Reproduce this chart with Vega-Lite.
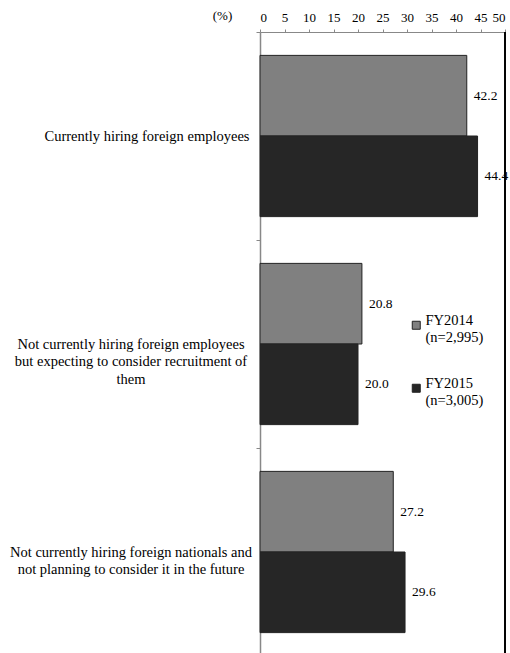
{
  "$schema": "https://vega.github.io/schema/vega-lite/v6.json",
  "width": 245,
  "height": 624,
  "autosize": {"type": "none"},
  "padding": {"left": 260, "top": 32, "right": 5, "bottom": 0},
  "background": "white",
  "config": {"view": {"stroke": null}, "font": "'Liberation Serif', 'Times New Roman', serif"},
  "data": {
    "values": [
      {"category": "Currently hiring foreign employees", "series": "FY2014|(n=2,995)", "value": 42.2},
      {"category": "Currently hiring foreign employees", "series": "FY2015|(n=3,005)", "value": 44.4},
      {"category": "Not currently hiring foreign employees|but expecting to consider recruitment of|them", "series": "FY2014|(n=2,995)", "value": 20.8},
      {"category": "Not currently hiring foreign employees|but expecting to consider recruitment of|them", "series": "FY2015|(n=3,005)", "value": 20.0},
      {"category": "Not currently hiring foreign nationals and|not planning to consider it in the future", "series": "FY2014|(n=2,995)", "value": 27.2},
      {"category": "Not currently hiring foreign nationals and|not planning to consider it in the future", "series": "FY2015|(n=3,005)", "value": 29.6}
    ]
  },
  "encoding": {
    "y": {
      "field": "category", "type": "nominal", "sort": null,
      "scale": {"paddingInner": 0, "paddingOuter": 0},
      "axis": {
        "title": null, "orient": "left",
        "domainColor": "#888", "domainWidth": 1.5,
        "tickColor": "#888", "tickSize": 4, "tickBand": "extent",
        "labelAlign": "center", "labelBaseline": "middle",
        "labelFont": "'Liberation Serif', 'Times New Roman', serif", "labelFontSize": 14.5, "labelLineHeight": 17.5,
        "labelColor": "#000", "labelLimit": 0,
        "labelExpr": "split(datum.label, '|')",
        "labelPadding": {"condition": {"test": "datum.value === 'Currently hiring foreign employees'", "value": 109.5}, "value": 125.5}
      }
    },
    "yOffset": {
      "field": "series", "type": "nominal", "sort": null,
      "scale": {"paddingInner": 0, "paddingOuter": 0.29}
    },
    "x": {
      "field": "value", "type": "quantitative",
      "scale": {"domain": [0, 50], "nice": false},
      "axis": {
        "orient": "top", "grid": false, "values": [0, 5, 10, 15, 20, 25, 30, 35, 40, 45, 50],
        "domainColor": "#888", "tickColor": "#888", "tickSize": 3,
        "labelFont": "'Liberation Serif', 'Times New Roman', serif", "labelFontSize": 13, "labelColor": "#000", "labelPadding": 5,
        "title": "(%)", "titleX": -38, "titleY": -17, "titleAlign": "center", "titleBaseline": "middle",
        "titleFont": "'Liberation Serif', 'Times New Roman', serif", "titleFontSize": 13, "titleFontWeight": "normal", "titleColor": "#000"
      }
    }
  },
  "layer": [
    {
      "mark": {"type": "bar", "stroke": "#222", "strokeWidth": 1},
      "encoding": {
        "color": {
          "field": "series", "type": "nominal", "sort": null,
          "scale": {"range": ["#808080", "#262626"]},
          "legend": {
            "title": null, "orient": "none", "legendX": 149, "legendY": 286,
            "symbolType": "square", "symbolSize": 64, "symbolStrokeColor": "#222", "symbolStrokeWidth": 1, "symbolOpacity": 1,
            "labelFont": "'Liberation Serif', 'Times New Roman', serif", "labelFontSize": 14.5, "labelColor": "#000", "labelOffset": 2,
            "labelBaseline": "alphabetic", "labelLimit": 0, "rowPadding": 31,
            "labelExpr": "split(datum.label, '|')"
          }
        }
      }
    },
    {
      "mark": {"type": "text", "align": "left", "baseline": "middle", "dx": 7, "fontSize": 13.5, "font": "'Liberation Serif', 'Times New Roman', serif", "color": "#000"},
      "encoding": {
        "text": {"field": "value", "type": "quantitative", "format": ".1f"}
      }
    },
    {
      "mark": {"type": "rule", "color": "#000", "strokeWidth": 1},
      "encoding": {"x": {"datum": 50}, "y": null, "yOffset": null}
    }
  ]
}
